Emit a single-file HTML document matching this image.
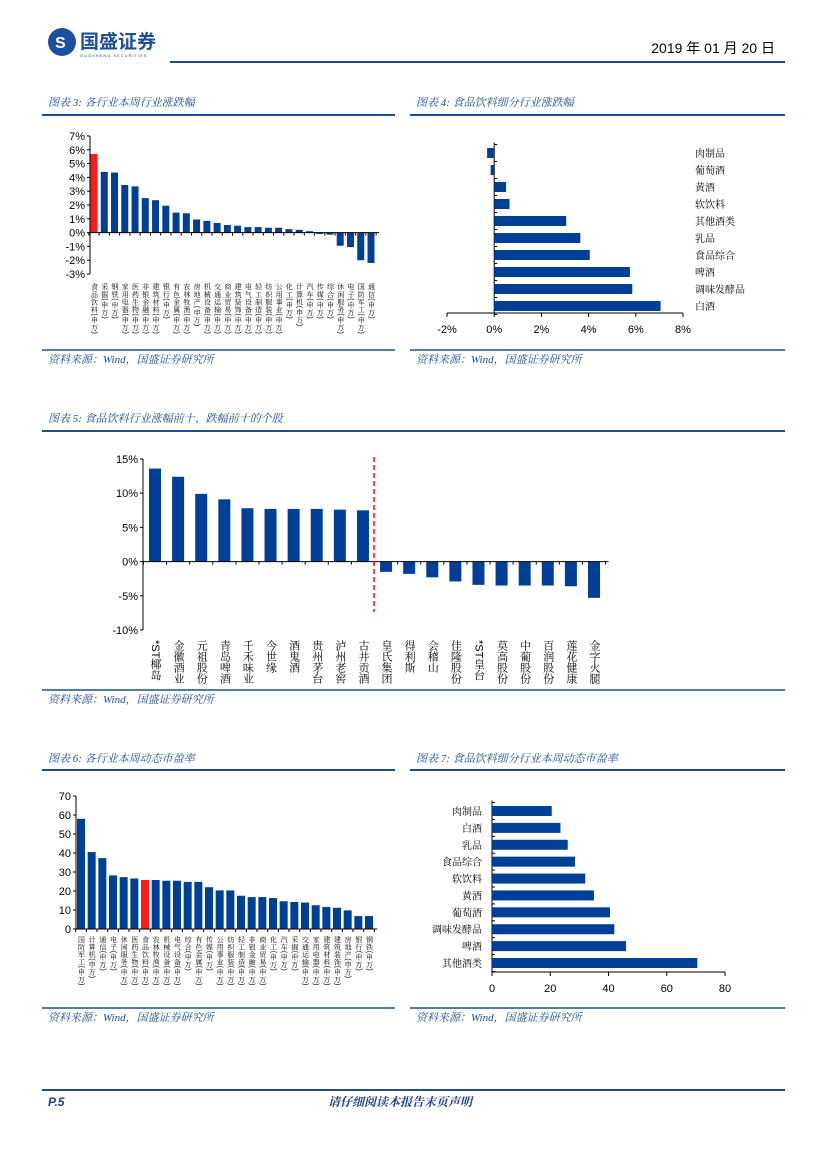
<!DOCTYPE html>
<html><head><meta charset="utf-8">
<style>
html,body{margin:0;padding:0;background:#fff;}
svg{display:block;font-family:"Liberation Sans","Noto Sans CJK SC",sans-serif;}
.t{font-family:"Liberation Serif","Noto Serif CJK SC",serif;font-style:italic;fill:#1f4e8c;font-size:11px;}
.tick{font-size:11px;fill:#000;}
.cat{font-size:8px;fill:#000;font-family:"Liberation Sans","Noto Serif CJK SC",serif;}
.vert{writing-mode:vertical-rl;}
</style></head>
<body>
<svg id="page" width="827" height="1169" viewBox="0 0 827 1169" xmlns="http://www.w3.org/2000/svg">
<g>
  <circle cx="62" cy="42" r="14" fill="#1c4f9c"/>
  <text x="55" y="48" font-size="16" font-weight="bold" fill="#fff">S</text>
  <text x="80" y="48" font-size="19" font-weight="bold" fill="#1c4f9c" font-family="'Noto Sans CJK SC',sans-serif">国盛证券</text>
  <text x="80" y="57" font-size="4" fill="#1c4f9c" letter-spacing="1">GUOSHENG SECURITIES</text>
  <text x="775" y="53" font-size="14" fill="#000" text-anchor="end" font-family="'Liberation Sans','Noto Sans CJK SC',sans-serif">2019 年 01 月 20 日</text>
  <line x1="170" y1="62" x2="785" y2="62" stroke="#1f4e8c" stroke-width="2"/>
</g>
<g id="frames"></g>
<g id="c3"></g><g id="c4"></g><g id="c5"></g><g id="c6"></g><g id="c7"></g>
<g>
  <line x1="42" y1="1090" x2="785" y2="1090" stroke="#1f4e8c" stroke-width="2"/>
  <text x="48" y="1106" font-size="12" font-weight="bold" font-style="italic" fill="#1c3f8c">P.5</text>
  <text x="328" y="1106" font-size="12" font-weight="bold" font-style="italic" fill="#1c3f8c" font-family="'Noto Serif CJK SC',serif">请仔细阅读本报告末页声明</text>
</g>
</svg>
<script>
// ---- chart 3 data
const c3Cats=["食品饮料","采掘","钢铁","家用电器","医药生物","非银金融","建筑材料","银行","有色金属","农林牧渔","房地产","机械设备","交通运输","商业贸易","建筑装饰","电气设备","轻工制造","纺织服装","公用事业","化工","计算机","汽车","传媒","综合","休闲服务","电子","国防军工","通信"];
const c3Vals=[5.7,4.4,4.35,3.45,3.35,2.5,2.35,1.95,1.45,1.4,0.95,0.85,0.7,0.55,0.5,0.4,0.4,0.35,0.35,0.25,0.2,0.1,-0.1,-0.15,-0.95,-1.05,-2.0,-2.2];
const c3Ticks=[7,6,5,4,3,2,1,0,-1,-2,-3];
// ---- chart 4 data
const c4Cats=["肉制品","葡萄酒","黄酒","软饮料","其他酒类","乳品","食品综合","啤酒","调味发酵品","白酒"];
const c4Vals=[-0.3,-0.15,0.5,0.65,3.05,3.65,4.05,5.75,5.85,7.05];
const c4Ticks=[-2,0,2,4,6,8];
// ---- chart 5 data
const c5Cats=["*ST椰岛","金徽酒业","元祖股份","青岛啤酒","千禾味业","今世缘","酒鬼酒","贵州茅台","泸州老窖","古井贡酒","皇氏集团","得利斯","会稽山","佳隆股份","*ST皇台","莫高股份","中葡股份","百润股份","莲花健康","金字火腿"];
const c5Vals=[13.6,12.4,9.9,9.1,7.8,7.7,7.7,7.7,7.6,7.5,-1.5,-1.8,-2.3,-2.9,-3.4,-3.5,-3.5,-3.5,-3.6,-5.3];
const c5Ticks=[15,10,5,0,-5,-10];
// ---- chart 6 data
const c6Cats=["国防军工","计算机","通信","电子","休闲服务","医药生物","食品饮料","农林牧渔","机械设备","电气设备","综合","有色金属","传媒","公用事业","纺织服装","轻工制造","非银金融","商业贸易","化工","汽车","采掘","交通运输","家用电器","建筑材料","建筑装饰","房地产","银行","钢铁"];
const c6Vals=[58,40.5,37.3,28.2,27.3,26.6,25.8,25.8,25.4,25.4,24.8,24.8,22,20.3,20.3,17.5,16.8,16.8,16.3,14.6,14.2,13.9,12.5,11.6,11.2,9.8,6.8,6.8];
const c6Ticks=[70,60,50,40,30,20,10,0];
// ---- chart 7 data
const c7Cats=["肉制品","白酒","乳品","食品综合","软饮料","黄酒","葡萄酒","调味发酵品","啤酒","其他酒类"];
const c7Vals=[20.5,23.5,26,28.5,32,35,40.5,42,46,70.5];
const c7Ticks=[0,20,40,60,80];

const NS="http://www.w3.org/2000/svg";
const BLUE="#003f98", RED="#ff1a1a";
function mk(p,tag,a,txt){const e=document.createElementNS(NS,tag);for(const k in a)e.setAttribute(k,a[k]);if(txt!==undefined)e.textContent=txt;p.appendChild(e);return e;}

const F=document.getElementById('frames');
const frames=[
 {x1:42,x2:395,ty:106,tl:115,sl:350,sy:363,title:"图表 3: 各行业本周行业涨跌幅",n:"3"},
 {x1:410,x2:785,ty:106,tl:115,sl:350,sy:363,title:"图表 4: 食品饮料细分行业涨跌幅",n:"4"},
 {x1:42,x2:785,ty:422,tl:431,sl:690,sy:703,title:"图表 5: 食品饮料行业涨幅前十、跌幅前十的个股",n:"5"},
 {x1:42,x2:395,ty:762,tl:770,sl:1008,sy:1021,title:"图表 6: 各行业本周动态市盈率",n:"6"},
 {x1:410,x2:785,ty:762,tl:770,sl:1008,sy:1021,title:"图表 7: 食品饮料细分行业本周动态市盈率",n:"7"}];
frames.forEach(f=>{
 const t=mk(F,'text',{x:f.x1+6,y:f.ty,class:'t'},f.title);
 
 
 mk(F,'line',{x1:f.x1,y1:f.tl,x2:f.x2,y2:f.tl,stroke:'#1f4e8c','stroke-width':2});
 mk(F,'line',{x1:f.x1,y1:f.sl,x2:f.x2,y2:f.sl,stroke:'#1f4e8c','stroke-width':1.5});
 const s=mk(F,'text',{x:f.x1+6,y:f.sy,class:'t'},"资料来源：Wind，国盛证券研究所");
 
 
});

function vbar(id,cats,vals,ticks,o){
 const g=document.getElementById(id);
 const y=v=>o.y0-(v-o.vmin)/(o.vmax-o.vmin)*(o.y0-o.y1);
 const x=i=>o.xf+i*(o.xl-o.xf)/(cats.length-1);
 mk(g,'line',{x1:o.ax,y1:y(o.vmax),x2:o.ax,y2:y(o.vmin),stroke:'#000'});
 ticks.forEach(t=>{
  mk(g,'line',{x1:o.ax-3,y1:y(t),x2:o.ax,y2:y(t),stroke:'#000'});
  const e=mk(g,'text',{x:o.ax-5,y:y(t)+4,'text-anchor':'end',class:'tick'},t+o.suf);
  
  
 });
 const step=(o.xl-o.xf)/(cats.length-1);
 vals.forEach((v,i)=>{
  const top=Math.min(y(v),y(0)),h=Math.abs(y(v)-y(0));
  const r=mk(g,'rect',{x:x(i)-o.bw/2,y:top,width:o.bw,height:h,fill:(o.red===i?RED:BLUE)});
  
  
  const lb=mk(g,'text',{x:x(i),y:o.ly,class:'cat vert',style:'font-size:'+o.lfs+'px;letter-spacing:'+o.ls+'px'},cats[i]+(o.lsuf||''));
  
  
 });
 mk(g,'line',{x1:o.ax,y1:y(0),x2:o.xl+step/2+3,y2:y(0),stroke:'#000'});
 for(let i=0;i<=cats.length;i++){const xx=o.xf-step/2+i*step;mk(g,'line',{x1:xx,y1:y(0),x2:xx,y2:y(0)+3,stroke:'#000'});}
 return {x,y,g};
}
vbar('c3',c3Cats,c3Vals,c3Ticks,{ax:90,y0:274,y1:136,vmin:-3,vmax:7,xf:94,xl:371,bw:7,suf:'%',red:0,ly:283,lfs:7,ls:0.6,lsuf:'(申万)'});
const c5=vbar('c5',c5Cats,c5Vals,c5Ticks,{ax:143,y0:630,y1:459,vmin:-10,vmax:15,xf:155,xl:594,bw:12,suf:'%',ly:640,lfs:11,ls:0});
const dl=mk(c5.g,'line',{x1:374,y1:457,x2:374,y2:612,stroke:RED,'stroke-width':1.6,'stroke-dasharray':'5,3'});


vbar('c6',c6Cats,c6Vals,c6Ticks,{ax:76,y0:929,y1:796,vmin:0,vmax:70,xf:81,xl:369,bw:8,suf:'',red:6,ly:936,lfs:7,ls:0.4,lsuf:'(申万)'});

function hbar(id,cats,vals,ticks,o){
 const g=document.getElementById(id);
 const x=v=>o.x0+(v-o.vmin)/(o.vmax-o.vmin)*(o.x1-o.x0);
 const y=i=>o.yf+i*(o.yl-o.yf)/(cats.length-1);
 const step=(o.yl-o.yf)/(cats.length-1);
 mk(g,'line',{x1:x(0),y1:o.yf-step/2-2,x2:x(0),y2:o.ax,stroke:'#000'});
 mk(g,'line',{x1:x(o.vmin),y1:o.ax,x2:x(o.vmax),y2:o.ax,stroke:'#000'});
 ticks.forEach(t=>{
  mk(g,'line',{x1:x(t),y1:o.ax,x2:x(t),y2:o.ax+4,stroke:'#000'});
  const e=mk(g,'text',{x:x(t),y:o.ax+20,'text-anchor':'middle',class:'tick'},t+o.suf);
  
  
 });
 for(let i=0;i<=cats.length;i++){const yy=o.yf-step/2+i*step;mk(g,'line',{x1:x(0),y1:yy,x2:x(0)+3,y2:yy,stroke:'#000'});}
 vals.forEach((v,i)=>{
  const l=Math.min(x(v),x(0)),w=Math.abs(x(v)-x(0));
  const r=mk(g,'rect',{x:l,y:y(i)-o.bh/2,width:w,height:o.bh,fill:BLUE});
  
  
  const lb=mk(g,'text',{x:o.lx,y:y(i)+4,'text-anchor':o.la,class:'cat',style:'font-size:10px'},cats[i]);
  
  
 });
}
hbar('c4',c4Cats,c4Vals,c4Ticks,{x0:447,x1:683,vmin:-2,vmax:8,yf:153,yl:306,bh:10,ax:313,suf:'%',lx:695,la:'start'});
hbar('c7',c7Cats,c7Vals,c7Ticks,{x0:492,x1:725,vmin:0,vmax:80,yf:811,yl:963,bh:10,ax:972,suf:'',lx:482,la:'end'});
</script>
</body></html>
